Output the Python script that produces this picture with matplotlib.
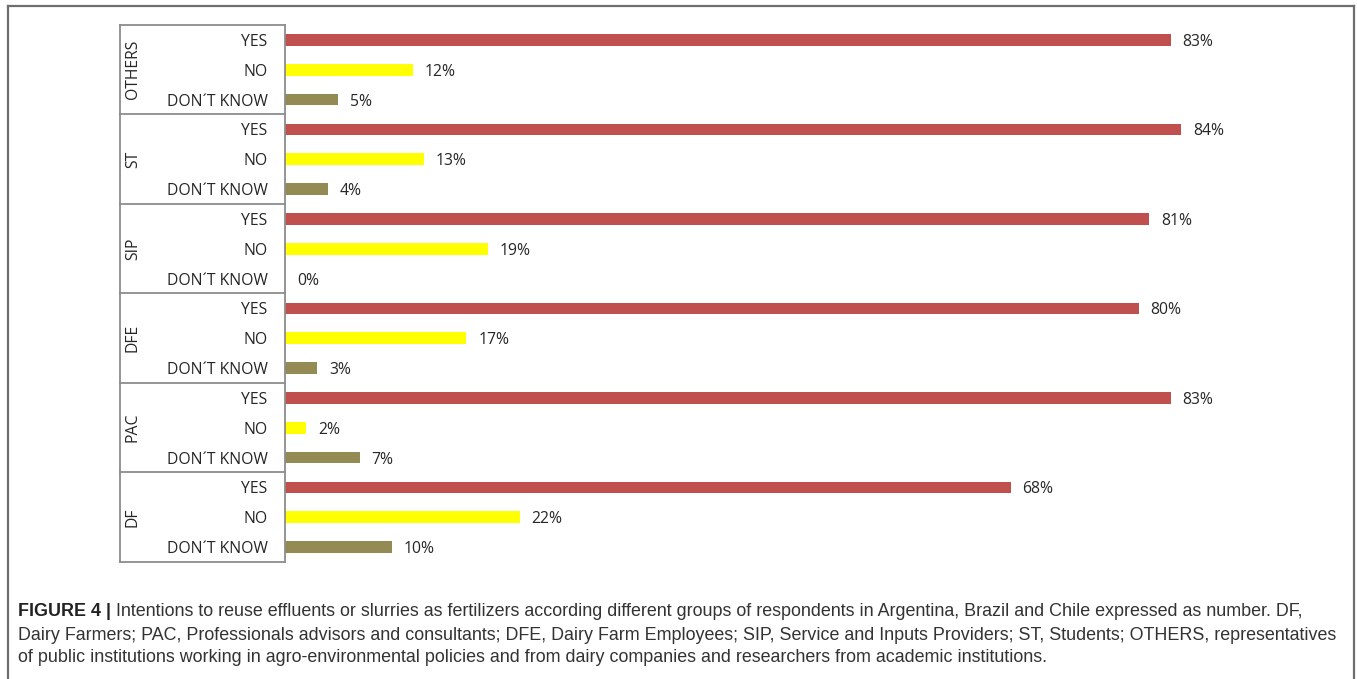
import matplotlib.pyplot as plt
import matplotlib.transforms as mtransforms
from matplotlib import font_manager

# data, top to bottom as in the picture
groups = ['OTHERS', 'ST', 'SIP', 'DFE', 'PAC', 'DF']
answers = ['YES', 'NO', 'DON´T KNOW']
yes_pct = [83, 84, 81, 80, 83, 68]
no_pct = [12, 13, 19, 17, 2, 22]
dk_pct = [5, 4, 0, 3, 7, 10]

colors = {'YES': '#C0504D', 'NO': '#FFFF00', 'DON´T KNOW': '#948A54'}

caption_bold = 'FIGURE 4 |'
caption_lines = [
    ' Intentions to reuse effluents or slurries as fertilizers according different groups of respondents in Argentina, Brazil and Chile expressed as number. DF,',
    'Dairy Farmers; PAC, Professionals advisors and consultants; DFE, Dairy Farm Employees; SIP, Service and Inputs Providers; ST, Students; OTHERS, representatives',
    'of public institutions working in agro-environmental policies and from dairy companies and researchers from academic institutions.',
]

cap_font = 'Liberation Sans'
chart_font = 'Open Sans'
txt_col = '#262626'
fs = 11.3

W, H = 1357, 679
fig = plt.figure(figsize=(W / 100, H / 100), dpi=100)

# axes placed in pixel terms: x 285..1352, y 25..562
x0, x1, y0, y1 = 285, 1352, 25, 562
ax = fig.add_axes([x0 / W, 1 - y1 / H, (x1 - x0) / W, (y1 - y0) / H])

vals = []
cols = []
labels = []
for i, g in enumerate(groups):
    for a, v in zip(answers, [yes_pct[i], no_pct[i], dk_pct[i]]):
        vals.append(v)
        cols.append(colors[a])
        labels.append(a)

rows = list(range(len(vals)))
ax.barh(rows, vals, height=0.39, color=cols)
ax.set_xlim(0, 100)
ax.set_ylim(len(vals) - 0.5, -0.5)

for r, v in zip(rows, vals):
    ax.annotate(f'{v}%', (v, r), xytext=(12, -2), textcoords='offset pixels',
                ha='left', va='center', fontsize=fs, color=txt_col,
                family=chart_font)

ax.set_yticks(rows)
ax.set_yticklabels(labels, fontsize=fs, color=txt_col, family=chart_font)
ax.tick_params(axis='y', length=0, pad=12.5)
ax.set_xticks([])
for s in ['top', 'right', 'bottom']:
    ax.spines[s].set_visible(False)
ax.spines['left'].set_color('#8c8c8c')
ax.spines['left'].set_linewidth(1.3)

# group box on the left
trans = mtransforms.blended_transform_factory(ax.transAxes, ax.transData)
bx = (120 - x0) / (x1 - x0)
line_kw = dict(color='#8c8c8c', lw=1.3, transform=trans, clip_on=False)
for k in range(len(groups) + 1):
    yb = k * 3 - 0.5
    ax.plot([bx, 0], [yb, yb], **line_kw)
ax.plot([bx, bx], [-0.5, len(vals) - 0.5], **line_kw)
for i, g in enumerate(groups):
    ax.text((133 - x0) / (x1 - x0), i * 3 + 1, g, rotation=90, ha='center',
            va='center', fontsize=fs, color=txt_col, family=chart_font,
            transform=trans)

# outer frame (open at the bottom)
fl, ft, fr = 8 / W, 1 - 6 / H, 1354 / W
frame_kw = dict(color='#6e6e6e', lw=1.6, transform=fig.transFigure)
fig.add_artist(plt.Line2D([fl, fl], [0, ft], **frame_kw))
fig.add_artist(plt.Line2D([fl, fr], [ft, ft], **frame_kw))
fig.add_artist(plt.Line2D([fr, fr], [ft, 0], **frame_kw))

# caption
cap_size = 12.85
line_y = [611, 635, 658]
tb = fig.text(18 / W, 1 - line_y[0] / H, caption_bold, fontsize=cap_size,
              fontweight='bold', family=cap_font, color='#222222', va='center')
fig.canvas.draw()
bb = tb.get_window_extent()
fig.text(bb.x1 / W, 1 - line_y[0] / H, caption_lines[0], fontsize=cap_size,
         family=cap_font, color='#333333', va='center')
for ly, txt in zip(line_y[1:], caption_lines[1:]):
    fig.text(18 / W, 1 - ly / H, txt, fontsize=cap_size, family=cap_font,
             color='#333333', va='center')

fig.savefig('out.png', dpi=100)
